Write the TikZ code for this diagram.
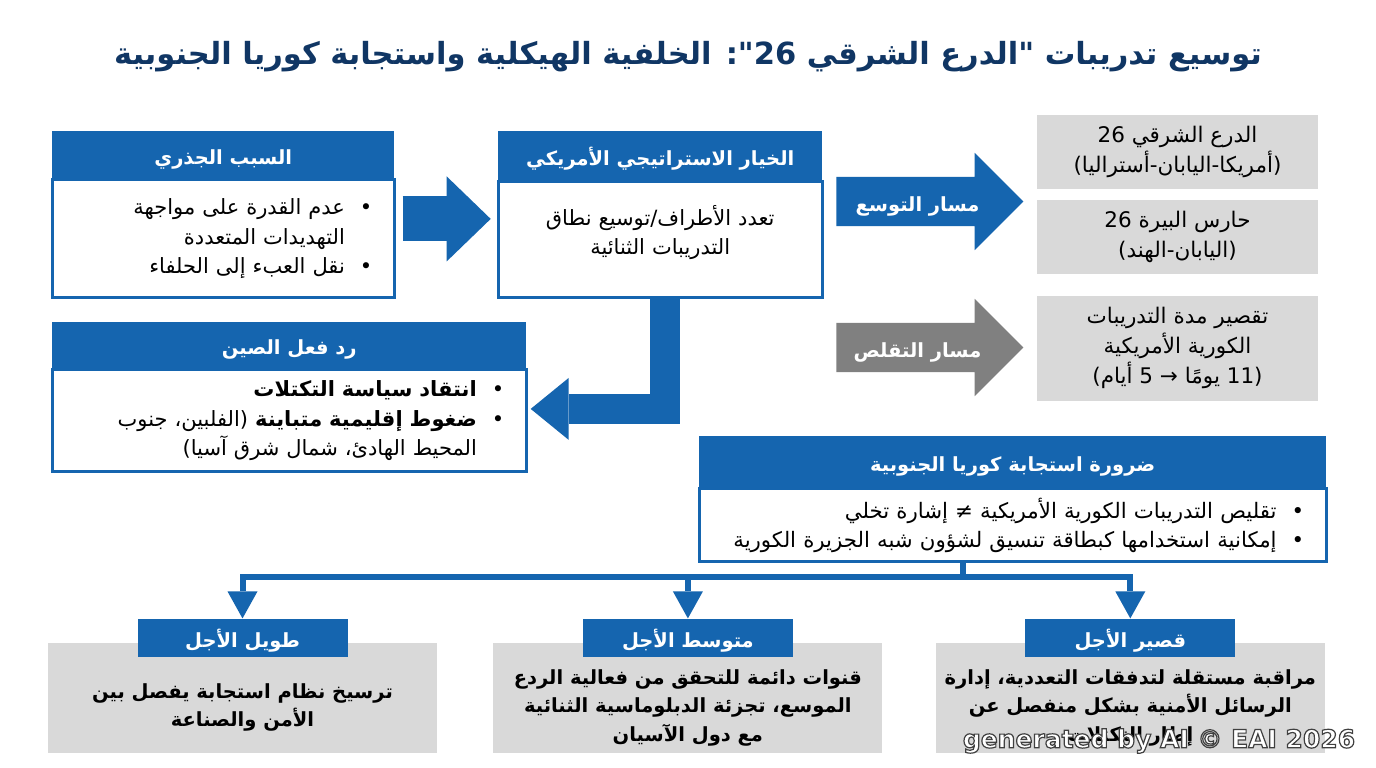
\documentclass[tikz,border=0pt]{standalone}
\usepackage{fontspec}
\usepackage{xcolor}
\usetikzlibrary{positioning,calc,shapes.arrows,arrows.meta}
\TeXXeTstate=1
\newfontfamily\arabicfont[Script=Arabic]{DejaVu Sans}
\newfontfamily\wmfont{DejaVu Sans}
\definecolor{cardblue}{RGB}{21,101,175}
\definecolor{titleblue}{RGB}{16,54,100}
\definecolor{boxgray}{RGB}{217,217,217}
\definecolor{arrowgray}{RGB}{128,128,128}
\newcommand{\rtl}[1]{\beginR#1\endR}
\newcommand{\bitem}[1]{\beginR\makebox[1.3em][l]{•}#1\endR}
\newcommand{\bcont}[1]{\beginR\hspace*{1.3em}#1\endR}
\newcommand{\topstrut}{\rule{0pt}{34pt}}
\newcommand{\botstrut}{\rule[-20pt]{0pt}{1pt}}
\newcommand{\outlined}[1]{\special{pdf:literal direct 2 Tr 1.2 w 0.25 0.25 0.25 RG}#1\special{pdf:literal direct 0 Tr}}
\tikzset{
    title-text/.style={
        text=titleblue,
        font=\arabicfont\fontsize{30.5}{36}\selectfont\bfseries
    },
    card-head/.style={
        fill=cardblue,
        text=white,
        anchor=north west,
        inner sep=0pt,
        text height=22pt,
        text depth=3pt,
        font=\arabicfont\fontsize{19.5}{23}\selectfont\bfseries
    },
    card-body/.style={
        draw=cardblue,
        line width=3pt,
        fill=white,
        inner xsep=22pt,
        inner ysep=0pt,
        align=right,
        font=\arabicfont\fontsize{21}{29.5}\selectfont
    },
    gray-box/.style={
        fill=boxgray,
        minimum width=281pt,
        inner sep=0pt,
        align=center,
        font=\arabicfont\fontsize{21.5}{30}\selectfont
    },
    term-box/.style={
        fill=boxgray,
        minimum width=389pt,
        minimum height=110pt,
        inner sep=0pt,
        align=center,
        font=\arabicfont\fontsize{19.5}{28.5}\selectfont\bfseries
    },
    term-head/.style={
        fill=cardblue,
        text=white,
        minimum width=210pt,
        minimum height=38pt,
        inner sep=0pt,
        text height=22pt,
        text depth=3pt,
        font=\arabicfont\fontsize{19.5}{23}\selectfont\bfseries
    },
    path-arrow/.style={
        single arrow,
        fill=cardblue,
        text=white,
        minimum height=187pt,
        single arrow head extend=24pt,
        inner xsep=0pt,
        inner ysep=12pt,
        text height=22pt,
        text depth=3pt,
        font=\arabicfont\fontsize{19.5}{23}\selectfont\bfseries
    },
    block-arrow/.style={
        draw=cardblue,
        line width=45pt,
        -{Triangle[length=44pt,width=85pt,line width=0pt]}
    },
    elbow-arrow/.style={
        draw=cardblue,
        line width=30pt,
        -{Triangle[length=38pt,width=62pt,line width=0pt]}
    },
    bus-line/.style={
        draw=cardblue,
        line width=6pt
    },
    bus-arrow/.style={
        bus-line,
        -{Triangle[length=27pt,width=30pt,line width=0pt]}
    },
    wm-text/.style={
        text=white,
        font=\wmfont\fontsize{25}{30}\selectfont\bfseries
    }
}
\begin{document}
\begin{tikzpicture}[x=1pt,y=-1pt]
    \fill[white] (0,0) rectangle (1376,768);
    \useasboundingbox (0,0) rectangle (1376,768);

    \node[title-text] (title) at (688,57) {\rtl{توسيع تدريبات "الدرع الشرقي 26": الخلفية الهيكلية واستجابة كوريا الجنوبية}};

    % top row
    \node[card-head, minimum width=342pt, minimum height=47pt] (causeh) at (52,131) {\rtl{السبب الجذري}};
    \node[card-body, below=0pt of causeh, minimum width=342pt, text width=298pt, minimum height=118pt] (causeb) {%
        \bitem{عدم القدرة على مواجهة}\\
        \bcont{التهديدات المتعددة}\\
        \bitem{نقل العبء إلى الحلفاء}};

    \node[card-head, minimum width=324pt, minimum height=49pt] (ush) at (498,131) {\rtl{الخيار الاستراتيجي الأمريكي}};
    \node[card-body, below=0pt of ush, minimum width=324pt, text width=280pt, minimum height=116pt, align=center] (usb) {%
        \rtl{تعدد الأطراف/توسيع نطاق}\\
        \rtl{التدريبات الثنائية}\botstrut};

    \node[path-arrow] (expand) at (917.5,201.5) {\rtl{مسار التوسع}};
    \node[path-arrow, fill=arrowgray] (shrink) at (917.5,347.5) {\rtl{مسار التقلص}};

    \node[gray-box, minimum height=74pt] (shield) at (1177.5,152) {\rtl{الدرع الشرقي 26}\\ \rtl{(أمريكا-اليابان-أستراليا)}};
    \node[gray-box, minimum height=74pt, below=11pt of shield] (guard) {\rtl{حارس البيرة 26}\\ \rtl{(اليابان-الهند)}};
    \node[gray-box, minimum height=105pt, below=21pt of guard] (shorten) {\rtl{تقصير مدة التدريبات}\\ \rtl{الكورية الأمريكية}\\ \rtl{(11 يومًا → 5 أيام)}};

    % middle row
    \node[card-head, minimum width=474pt, minimum height=46pt] (chinah) at (52,322) {\rtl{رد فعل الصين}};
    \node[card-body, below=0pt of chinah, minimum width=474pt, text width=430pt, minimum height=102pt] (chinab) {%
        \bitem{{\bfseries انتقاد سياسة التكتلات}}\\
        \bitem{{\bfseries ضغوط إقليمية متباينة} (الفلبين، جنوب}\\
        \bcont{المحيط الهادئ، شمال شرق آسيا)}};

    \node[card-head, minimum width=627pt, minimum height=51pt] (skh) at (699,436) {\rtl{ضرورة استجابة كوريا الجنوبية}};
    \node[card-body, below=0pt of skh, minimum width=627pt, text width=583pt, minimum height=73pt, font=\arabicfont\fontsize{21.3}{28.5}\selectfont] (skb) {%
        \bitem{تقليص التدريبات الكورية الأمريكية ≠ إشارة تخلي}\\
        \bitem{إمكانية استخدامها كبطاقة تنسيق لشؤون شبه الجزيرة الكورية}};

    % bottom row
    \node[term-box] (longb) at (242.5,698) {\topstrut\rtl{ترسيخ نظام استجابة يفصل بين}\\ \rtl{الأمن والصناعة}};
    \node[term-box, right=56pt of longb] (midb) {\topstrut\rtl{قنوات دائمة للتحقق من فعالية الردع}\\ \rtl{الموسع، تجزئة الدبلوماسية الثنائية}\\ \rtl{مع دول الآسيان}};
    \node[term-box, right=53pt of midb] (shortb) {\topstrut\rtl{مراقبة مستقلة لتدفقات التعددية، إدارة}\\ \rtl{الرسائل الأمنية بشكل منفصل عن}\\ \rtl{إطار التكتلات}};
    \node[term-head, above=-14pt of longb] (longh) {\rtl{طويل الأجل}};
    \node[term-head, above=-14pt of midb] (midh) {\rtl{متوسط الأجل}};
    \node[term-head, above=-14pt of shortb] (shorth) {\rtl{قصير الأجل}};

    % connectors
    \draw[block-arrow] ([shift={(7pt,20pt)}]causeb.east) -- ([shift={(-6pt,21pt)}]usb.west);
    \draw[elbow-arrow] ([xshift=5pt]usb.south) |- ([shift={(3pt,12pt)}]chinab.east);
    \coordinate (busjoin) at ($(skb.south)+(-50,14)$);
    \draw[bus-line] ([xshift=-50pt]skb.south) -- (busjoin);
    \draw[bus-arrow] (busjoin) -| (longh.north);
    \draw[bus-arrow] (busjoin) -| (midh.north);
    \draw[bus-arrow] (busjoin) -| (shorth.north);

    \node[wm-text] (wmark) at (1159,741) {\outlined{generated by AI © EAI 2026}};
\end{tikzpicture}
\end{document}
